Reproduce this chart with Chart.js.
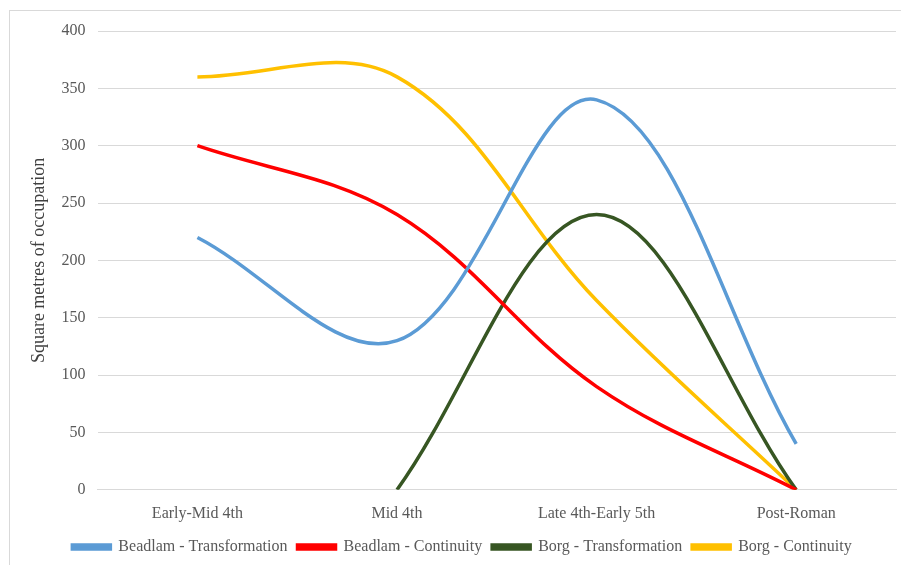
<!DOCTYPE html>
<html>
<head>
<meta charset="utf-8">
<script src="https://cdn.jsdelivr.net/npm/chart.js@4/dist/chart.umd.min.js"></script>
<style>
  html, body { margin: 0; padding: 0; background: #fff; overflow: hidden; }
  #wrap { position: relative; width: 901px; height: 565px; }
  #frame { position: absolute; left: 9px; top: 10px; width: 1000px; height: 1000px;
    border: 1px solid #d9d9d9; pointer-events: none; }
</style>
</head>
<body>
<div id="wrap">
  <canvas id="chart" width="901" height="565"></canvas>
  <div id="frame"></div>
</div>
<script>
  // chart data
  var arrCategories = ["Early-Mid 4th", "Mid 4th", "Late 4th-Early 5th", "Post-Roman"];
  var arrBeadlamTransformation = [220, 130, 340, 40];
  var arrBeadlamContinuity = [300, 240, 90, 0];
  var arrBorgTransformation = [null, 0, 240, 0];
  var arrBorgContinuity = [360, 360, 165, 0];
  var arrYTicks = [0, 50, 100, 150, 200, 250, 300, 350, 400];

  var FONT = "'Liberation Serif', 'Times New Roman', serif";
  var TEXT_COLOR = "#595959";

  function makeDataset(label, data, color) {
    return {
      label: label,
      data: data,
      borderColor: color,
      backgroundColor: color,
      borderWidth: 3.5,
      pointRadius: 0,
      pointHoverRadius: 0,
      tension: 0.36,
      fill: false
    };
  }

  var datasets = [
    makeDataset("Beadlam - Transformation", arrBeadlamTransformation, "#5b9bd5"),
    makeDataset("Beadlam - Continuity", arrBeadlamContinuity, "#ff0000"),
    makeDataset("Borg - Transformation", arrBorgTransformation, "#375623"),
    makeDataset("Borg - Continuity", arrBorgContinuity, "#ffc000")
  ];

  Chart.defaults.font.family = FONT;
  Chart.defaults.color = TEXT_COLOR;

  new Chart(document.getElementById("chart"), {
    type: "line",
    data: { labels: arrCategories, datasets: datasets },
    options: {
      responsive: false,
      animation: false,
      maintainAspectRatio: false,
      layout: { padding: { left: 28, right: 5, top: 31, bottom: 0 } },
      plugins: {
        legend: {
          position: "bottom",
          labels: {
            boxWidth: 38,
            boxHeight: 4,
            padding: 10,
            font: { size: 16 },
            color: TEXT_COLOR
          }
        },
        tooltip: { enabled: false }
      },
      scales: {
        x: {
          offset: true,
          grid: { display: false },
          border: { color: "#d9d9d9" },
          ticks: { font: { size: 16 }, color: TEXT_COLOR, padding: 6, maxRotation: 0 }
        },
        y: {
          min: 0,
          max: 400,
          afterBuildTicks: function (axis) {
            axis.ticks = arrYTicks.map(function (v) { return { value: v }; });
          },
          grid: { color: "#d9d9d9", drawTicks: false },
          border: { display: false },
          ticks: { font: { size: 16 }, color: TEXT_COLOR, padding: 12 },
          title: {
            display: true,
            text: "Square metres of occupation",
            font: { size: 18 },
            color: "#404040",
            padding: { top: 0, bottom: 0 }
          }
        }
      }
    }
  });
</script>
</body>
</html>
